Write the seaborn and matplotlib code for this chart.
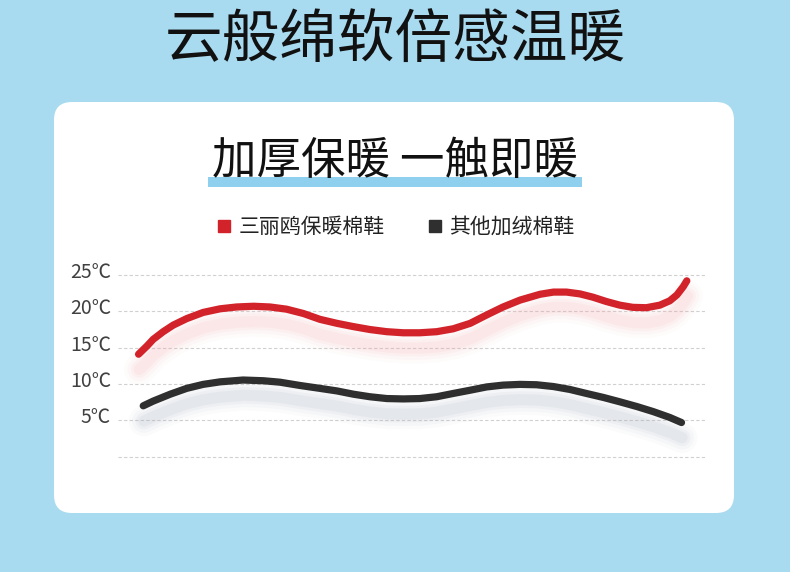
import numpy as np
import pandas as pd
import seaborn as sns
import matplotlib.pyplot as plt
import matplotlib.patheffects as pe
import matplotlib.transforms as mtransforms
from matplotlib.patches import FancyBboxPatch, Rectangle
from matplotlib.lines import Line2D

## data (x = position along the chart, 0..100)
red_x = [3.5, 4.9, 6.0, 7.7, 9.4, 11.7, 14.5, 17.4, 20.2, 23.1, 25.9, 28.7, 31.6,
         34.4, 37.3, 40.1, 42.9, 45.8, 48.6, 51.4, 54.3, 57.1, 60.0, 62.8, 65.6,
         68.5, 70.2, 71.9, 74.2, 76.4, 78.7, 80.9, 83.2, 85.5, 87.7, 90.0, 92.3,
         94.0, 95.2, 96.3, 96.9]
red_t = [14.1, 15.2, 16.15, 17.2, 18.1, 19.0, 19.85, 20.35, 20.6, 20.7, 20.6, 20.3, 19.7,
         18.9, 18.35, 17.9, 17.5, 17.2, 17.05, 17.05, 17.2, 17.6, 18.35, 19.5, 20.6,
         21.55, 21.95, 22.35, 22.65, 22.65, 22.4, 21.95, 21.35, 20.85, 20.55, 20.5, 20.85,
         21.45, 22.25, 23.4, 24.2]
black_x = [4.3, 6.0, 8.9, 11.7, 14.5, 17.4, 21.3, 24.8, 27.6, 31.0, 34.4, 37.3,
           40.1, 42.9, 45.8, 48.6, 51.4, 54.3, 57.1, 60.0, 62.8, 65.6, 68.5,
           71.3, 74.2, 77.0, 79.8, 82.7, 85.5, 88.4, 91.2, 94.0, 96.0]
black_t = [7.0, 7.65, 8.6, 9.4, 9.95, 10.3, 10.55, 10.45, 10.25, 9.8, 9.4, 9.05,
           8.6, 8.25, 8.0, 7.95, 8.0, 8.25, 8.7, 9.15, 9.6, 9.85, 9.95,
           9.9, 9.65, 9.25, 8.7, 8.15, 7.55, 6.9, 6.2, 5.4, 4.7]

series_names = ['三丽鸥保暖棉鞋', '其他加绒棉鞋']
series_colors = ['#d2232a', '#2f2f2f']
shadow_colors = ['#f7a9ae', '#a3adba']
y_ticks = [0, 5, 10, 15, 20, 25]
y_labels = ['', '5℃', '10℃', '15℃', '20℃', '25℃']

title = '云般绵软倍感温暖'
subtitle = '加厚保暖 一触即暖'

df = pd.concat([
    pd.DataFrame({'x': red_x, 't': red_t, 'series': series_names[0]}),
    pd.DataFrame({'x': black_x, 't': black_t, 'series': series_names[1]}),
], ignore_index=True)

sns.set_theme(style='white')
plt.rcParams['font.family'] = ['Noto Sans CJK SC', 'DejaVu Sans']

BG = '#a8daf0'
fig = plt.figure(figsize=(7.9, 5.72), dpi=100, facecolor=BG)

# pixel-space background layer: card + underline bar
bg = fig.add_axes([0, 0, 1, 1])
bg.set_xlim(0, 790)
bg.set_ylim(572, 0)
bg.axis('off')
bg.add_patch(FancyBboxPatch((54, 102), 680, 411,
                            boxstyle='round,pad=0,rounding_size=18',
                            facecolor='white', edgecolor='none'))
bg.add_patch(Rectangle((208, 177), 374, 10, facecolor='#8fd0ee', edgecolor='none'))

fig.text(0.5, 1 - 41 / 572, title, ha='center', va='center',
         fontsize=41.5, color='#111111')
fig.text(0.5, 1 - 161 / 572, subtitle, ha='center', va='center',
         fontsize=32, color='#111111')

# chart: y from -0.3 to 25.3, 7.268 px per degree, 0 at 456.7 px
px_per = 7.268
y_lo, y_hi = -0.3, 25.3
bot_px = 456.7 - y_lo * px_per
top_px = 456.7 - y_hi * px_per
ax = fig.add_axes([118 / 790, 1 - bot_px / 572, 587 / 790, (bot_px - top_px) / 572])
ax.patch.set_alpha(0)
sns.lineplot(data=df, x='x', y='t', hue='series', hue_order=series_names,
             palette=series_colors, sort=False, linewidth=5.2,
             solid_capstyle='round', solid_joinstyle='round',
             legend=False, ax=ax, zorder=3)

# soft drop shadow under each curve
for line, sc in zip(ax.lines, shadow_colors):
    effects = [pe.SimpleLineShadow(offset=(0.5, -11), shadow_color=sc,
                                   alpha=a, linewidth=w)
               for w, a in [(22, 0.04), (17, 0.06), (12, 0.09), (8, 0.11)]]
    line.set_path_effects(effects + [pe.Normal()])

ax.set_xlim(0, 100)
ax.set_ylim(y_lo, y_hi)
ax.set_yticks(y_ticks)
ax.set_yticklabels(y_labels)
ax.set_xticks([])
ax.set_xlabel('')
ax.set_ylabel('')
ax.yaxis.grid(True, color='#d0d0d0', linestyle=(0, (3, 2)), linewidth=0.8)
ax.tick_params(axis='y', length=0, pad=5, labelsize=14, labelcolor='#404040')
sns.despine(ax=ax, left=True, bottom=True)
shift = mtransforms.ScaledTranslation(0, 5 / 100, fig.dpi_scale_trans)
for lbl in ax.get_yticklabels():
    lbl.set_transform(lbl.get_transform() + shift)

handles = [Line2D([], [], marker='s', linestyle='none', markersize=9,
                  markerfacecolor=c, markeredgecolor=c) for c in series_colors]
fig.legend(handles, series_names, loc='center', bbox_to_anchor=(395 / 790, 1 - 227 / 572),
           ncol=2, frameon=False, fontsize=15, handletextpad=0.3,
           columnspacing=2.0, handlelength=0.8, labelcolor='#222222')

fig.savefig('out.png', dpi=100, facecolor=BG)
